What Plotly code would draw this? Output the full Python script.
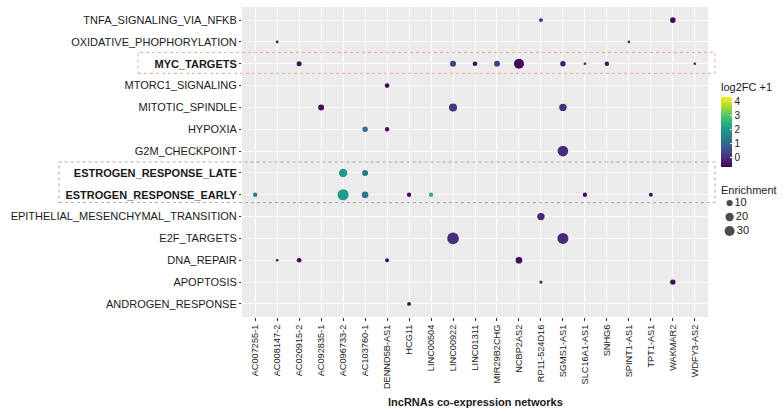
import math
import plotly.graph_objects as go

# ---------------- data ----------------
pathways_order = [
    "TNFA_SIGNALING_VIA_NFKB", "OXIDATIVE_PHOPHORYLATION", "MYC_TARGETS",
    "MTORC1_SIGNALING", "MITOTIC_SPINDLE", "HYPOXIA", "G2M_CHECKPOINT",
    "ESTROGEN_RESPONSE_LATE", "ESTROGEN_RESPONSE_EARLY",
    "EPITHELIAL_MESENCHYMAL_TRANSITION", "E2F_TARGETS", "DNA_REPAIR",
    "APOPTOSIS", "ANDROGEN_RESPONSE",
]
highlighted = ["MYC_TARGETS", "ESTROGEN_RESPONSE_LATE", "ESTROGEN_RESPONSE_EARLY"]

lncrna_order = [
    "AC007255-1", "AC008147-2", "AC020915-2", "AC092835-1", "AC096733-2",
    "AC103760-1", "DENND5B-AS1", "HCG11", "LINC00504", "LINC00922",
    "LINC01311", "MIR29B2CHG", "NCBP2AS2", "RP11-524D16", "SGMS1-AS1",
    "SLC16A1-AS1", "SNHG6", "SPINT1-AS1", "TPT1-AS1", "WAKMAR2", "WDFY3-AS2",
]

pathway = [
    "TNFA_SIGNALING_VIA_NFKB", "TNFA_SIGNALING_VIA_NFKB",
    "OXIDATIVE_PHOPHORYLATION", "OXIDATIVE_PHOPHORYLATION",
    "MYC_TARGETS", "MYC_TARGETS", "MYC_TARGETS", "MYC_TARGETS", "MYC_TARGETS",
    "MYC_TARGETS", "MYC_TARGETS", "MYC_TARGETS", "MYC_TARGETS",
    "MTORC1_SIGNALING",
    "MITOTIC_SPINDLE", "MITOTIC_SPINDLE", "MITOTIC_SPINDLE",
    "HYPOXIA", "HYPOXIA",
    "G2M_CHECKPOINT",
    "ESTROGEN_RESPONSE_LATE", "ESTROGEN_RESPONSE_LATE",
    "ESTROGEN_RESPONSE_EARLY", "ESTROGEN_RESPONSE_EARLY", "ESTROGEN_RESPONSE_EARLY",
    "ESTROGEN_RESPONSE_EARLY", "ESTROGEN_RESPONSE_EARLY", "ESTROGEN_RESPONSE_EARLY",
    "ESTROGEN_RESPONSE_EARLY",
    "EPITHELIAL_MESENCHYMAL_TRANSITION",
    "E2F_TARGETS", "E2F_TARGETS",
    "DNA_REPAIR", "DNA_REPAIR", "DNA_REPAIR", "DNA_REPAIR",
    "APOPTOSIS", "APOPTOSIS",
    "ANDROGEN_RESPONSE",
]
lncrna = [
    "RP11-524D16", "WAKMAR2",
    "AC008147-2", "SPINT1-AS1",
    "AC020915-2", "LINC00922", "LINC01311", "MIR29B2CHG", "NCBP2AS2",
    "SGMS1-AS1", "SLC16A1-AS1", "SNHG6", "WDFY3-AS2",
    "DENND5B-AS1",
    "AC092835-1", "LINC00922", "SGMS1-AS1",
    "AC103760-1", "DENND5B-AS1",
    "SGMS1-AS1",
    "AC096733-2", "AC103760-1",
    "AC007255-1", "AC096733-2", "AC103760-1",
    "HCG11", "LINC00504", "SLC16A1-AS1",
    "TPT1-AS1",
    "RP11-524D16",
    "LINC00922", "SGMS1-AS1",
    "AC008147-2", "AC020915-2", "DENND5B-AS1", "NCBP2AS2",
    "RP11-524D16", "WAKMAR2",
    "HCG11",
]
log2fc_plus1 = [
    0.0, -0.5,
    -0.4, -0.1,
    -0.45, 0.3, -0.5, 0.3, -0.55,
    -0.35, -0.4, -0.45, -0.2,
    -0.5,
    -0.5, 0.1, 0.0,
    1.3, -0.5,
    0.0,
    2.0, 1.3,
    1.4, 2.05, 1.3,
    -0.5, 2.5, -0.45,
    -0.45,
    -0.1,
    0.0, -0.05,
    -0.3, -0.5, -0.5, -0.45,
    0.0, -0.5,
    -0.5,
]
enrichment = [
    3, 8,
    1, 1,
    6, 9, 5, 9, 30,
    7, 1, 4, 1,
    5,
    9, 18, 15,
    7, 4,
    35,
    20, 9,
    4, 37, 12,
    4, 4, 4,
    3,
    15,
    42, 37,
    1, 5, 3, 12,
    2, 7,
    3,
]
color_limits = [-0.65, 4.35]
colorbar_ticks = [0, 1, 2, 3, 4]
size_legend_values = [10, 20, 30]

# ---------------- layout geometry ----------------
W, H = 784, 414
ML, MR, MT, MB = 242, 0, 7, 97
PW = W - ML - MR                 # paper width
PH = H - MT - MB                 # paper height
PANEL_R = 708
main_dom = (PANEL_R - ML) / PW

FONT = "Liberation Sans, Arial, Helvetica, sans-serif"


def px_x(p):
    return (p - ML) / PW


def px_y(p):
    return (H - MB - p) / PH


def dot_size(v):
    return 1.07 + 1.63 * math.sqrt(v)


n_rows = len(pathways_order)
y_range = [n_rows - 1 + 0.6, -0.6]


def row_to_paper(r):
    return (y_range[0] - r) / (y_range[0] - y_range[1])


fig = go.Figure()

CB_TOP, CB_BOT = 80, 167
fig.add_trace(go.Scatter(
    x=lncrna, y=pathway, mode="markers",
    marker=dict(
        size=[dot_size(v) for v in enrichment],
        color=log2fc_plus1, colorscale="Viridis",
        cmin=color_limits[0], cmax=color_limits[1],
        line=dict(width=0), opacity=1,
        colorbar=dict(
            title=dict(text="log2FC +1", side="top",
                       font=dict(size=11, color="#1a1a1a", family=FONT)),
            x=px_x(721), xanchor="left",
            y=px_y((CB_TOP + CB_BOT) / 2), yanchor="middle",
            len=(CB_BOT - CB_TOP) / PH, lenmode="fraction", thickness=11,
            ypad=0, xpad=0, outlinewidth=0,
            tickvals=colorbar_ticks, ticks="inside", tickcolor="white", ticklen=2,
            tickfont=dict(size=10, color="#1a1a1a", family=FONT),
        ),
    ),
    showlegend=False, xaxis="x", yaxis="y",
))

# size legend
fig.add_trace(go.Scatter(
    x=[1.5] * len(size_legend_values), y=size_legend_values,
    mode="markers+text",
    text=[str(v) for v in size_legend_values], textposition="middle right",
    textfont=dict(size=11, color="#1a1a1a", family=FONT),
    marker=dict(size=[dot_size(v) for v in size_legend_values], color="black",
                line=dict(width=0)),
    showlegend=False, xaxis="x2", yaxis="y2", hoverinfo="skip",
))

ticktext = [f"<b>{p}</b>" if p in highlighted else p for p in pathways_order]

shapes = [
    dict(type="rect", xref="x domain", yref="y domain", x0=0, x1=1, y0=0, y1=1,
         fillcolor="#EBEBEB", line=dict(width=0), layer="below"),
]
myc = pathways_order.index("MYC_TARGETS")
shapes.append(dict(
    type="rect", xref="paper", yref="paper",
    x0=px_x(138), x1=px_x(715),
    y0=row_to_paper(myc + 0.44), y1=row_to_paper(myc - 0.52),
    line=dict(color="#F4A0A0", width=1, dash="dot"), fillcolor="rgba(0,0,0,0)",
    layer="above"))
late = pathways_order.index("ESTROGEN_RESPONSE_LATE")
early = pathways_order.index("ESTROGEN_RESPONSE_EARLY")
shapes.append(dict(
    type="rect", xref="paper", yref="paper",
    x0=px_x(59), x1=px_x(715),
    y0=row_to_paper(early + 0.36), y1=row_to_paper(late - 0.5),
    line=dict(color="#A8A8A8", width=1, dash="dot"), fillcolor="rgba(0,0,0,0)",
    layer="above"))

fig.update_layout(
    width=W, height=H,
    margin=dict(l=ML, r=MR, t=MT, b=MB, pad=0),
    paper_bgcolor="white", plot_bgcolor="rgba(0,0,0,0)",
    font=dict(family=FONT, color="#1a1a1a"),
    xaxis=dict(
        domain=[0, main_dom], type="category", categoryorder="array",
        categoryarray=lncrna_order, range=[-0.6, len(lncrna_order) - 1 + 0.6],
        showgrid=True, gridcolor="white", gridwidth=1.1, zeroline=False,
        ticks="outside", ticklen=3, tickcolor="#333333", tickwidth=1,
        tickangle=-90, tickfont=dict(size=9.2, color="#1a1a1a", family=FONT),
        showline=False, fixedrange=True,
    ),
    yaxis=dict(
        domain=[0, 1], type="category", categoryorder="array",
        categoryarray=pathways_order, range=y_range,
        tickvals=pathways_order, ticktext=ticktext,
        showgrid=True, gridcolor="white", gridwidth=1.1, zeroline=False,
        ticks="outside", ticklen=2, tickcolor="#333333", tickwidth=1,
        tickfont=dict(size=11, color="#1a1a1a", family=FONT),
        showline=False, fixedrange=True,
    ),
    xaxis2=dict(domain=[px_x(720), 1], range=[0, 10], visible=False,
                anchor="y2", fixedrange=True),
    yaxis2=dict(domain=[px_y(238), px_y(196)], range=[35, 5], visible=False,
                anchor="x2", fixedrange=True),
    shapes=shapes,
    annotations=[
        dict(text="<b>lncRNAs co-expression networks</b>", xref="paper", yref="paper",
             x=px_x((242 + 708) / 2), y=px_y(402), xanchor="center", yanchor="middle",
             showarrow=False, font=dict(size=11, color="#1a1a1a", family=FONT)),
        dict(text="Enrichment", xref="paper", yref="paper",
             x=px_x(719), y=px_y(190), xanchor="left", yanchor="middle",
             showarrow=False, font=dict(size=11, color="#1a1a1a", family=FONT)),
    ],
)

fig.write_html(
    "out.html",
    config={"displayModeBar": False},
    post_script="document.body.style.margin='0px';document.body.style.padding='0px';",
)
